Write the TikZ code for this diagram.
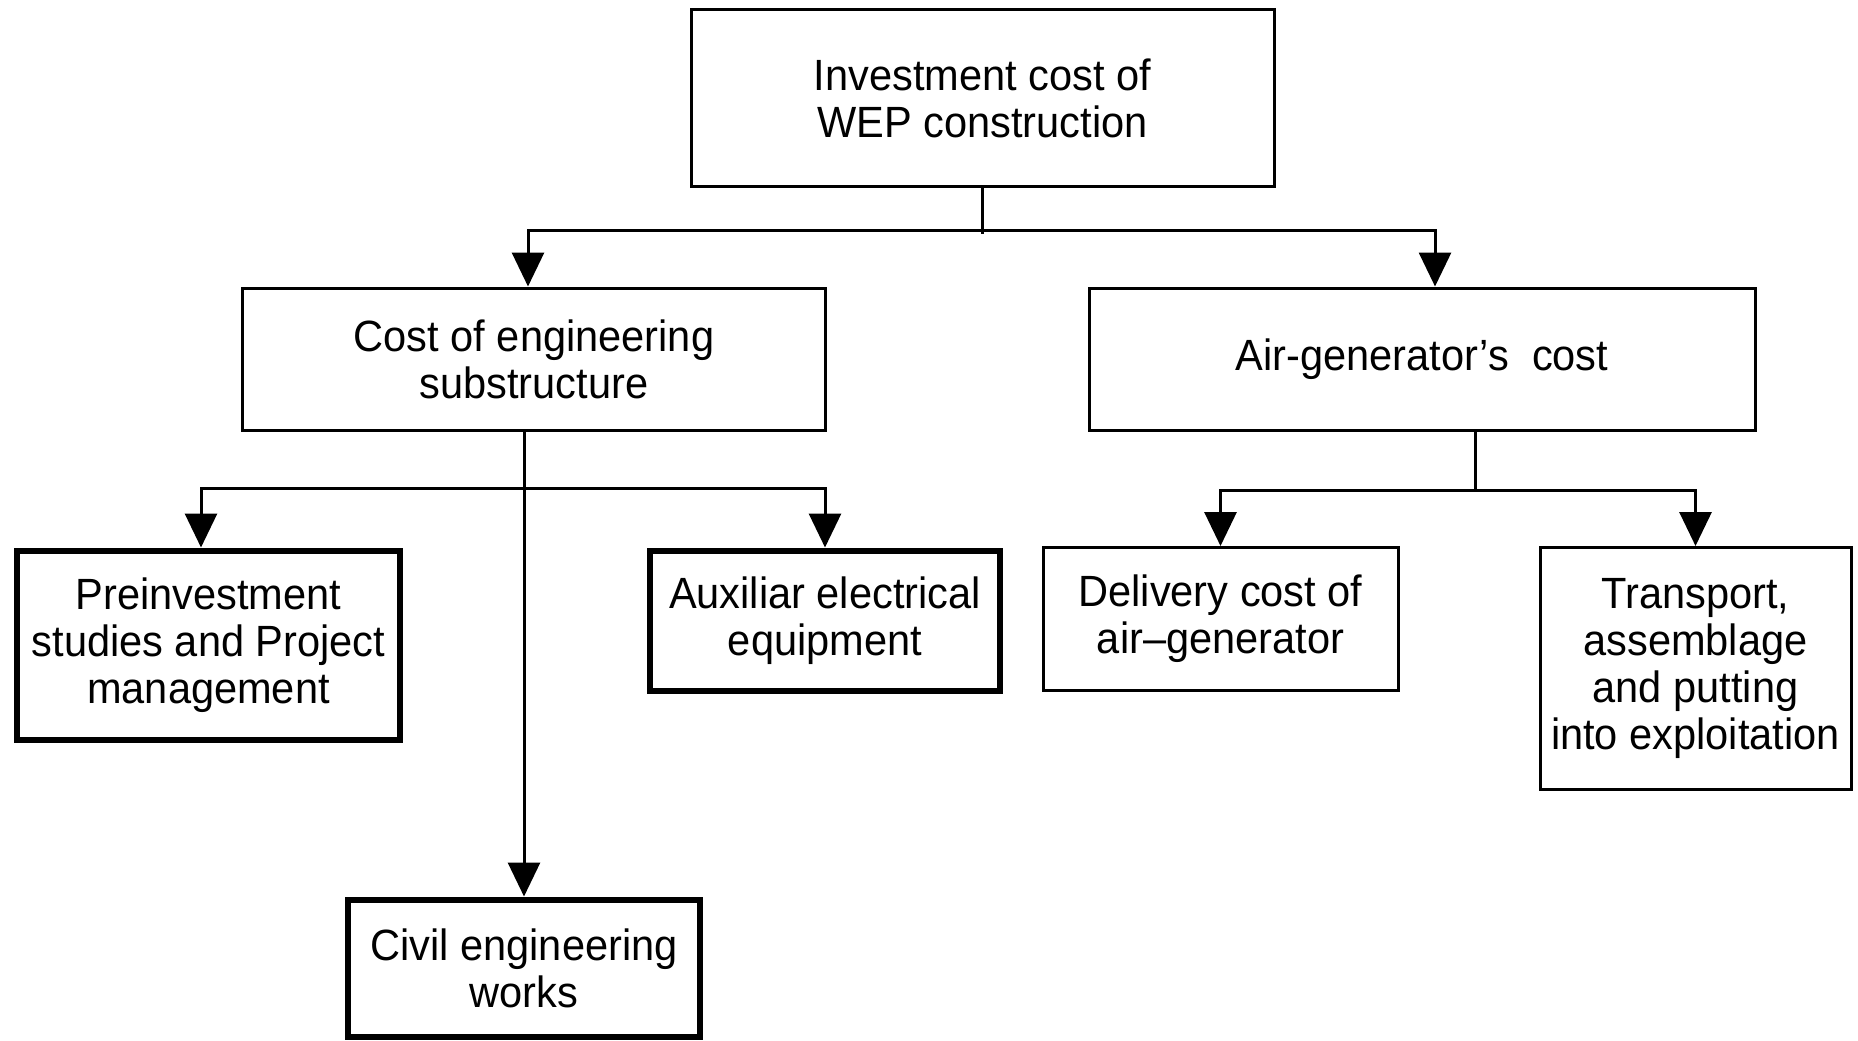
\documentclass[tikz,border=0pt]{standalone}
\usepackage{fontspec}
\setmainfont{Liberation Sans}[FakeStretch=0.95]
\usepackage{tikz}
\usetikzlibrary{arrows.meta,positioning}

\begin{document}
\begin{tikzpicture}[x=0.4pt,y=-0.4pt,>={Triangle[length=13.6pt,width=12.8pt]}]
\tikzset{
  box/.style ={draw,line width=1.2pt,align=center,inner sep=0pt,font=\fontsize{17.5}{18.8}\selectfont},
  hbox/.style={box,line width=2.4pt},
  link/.style={line width=1.2pt}
}
\useasboundingbox (0,0) rectangle (1858,1040);

\node[box,minimum width=233.2pt,minimum height=71pt] (top) at (982.5,98) {Investment cost of\\WEP construction};
\node[box,minimum width=232.8pt,minimum height=56.8pt] (eng) at (534,359) {Cost of engineering\\substructure};
\node[box,minimum width=266.4pt,minimum height=56.8pt,right=104.4pt of eng] (air) {Air-generator's\ \ cost};

\node[hbox,anchor=north,minimum width=153.2pt,minimum height=75.6pt] (pre) at (208.5,547.5) {Preinvestment\\studies and Project\\management};
\node[hbox,anchor=north,minimum width=140pt,minimum height=56pt] (aux) at (825,547.5) {Auxiliar electrical\\equipment};
\node[hbox,anchor=north,minimum width=140.8pt,minimum height=54.8pt] (civ) at (524,896.5) {Civil engineering\\works};
\node[box,anchor=north,minimum width=142pt,minimum height=57.2pt] (del) at (1220.5,546) {Delivery cost of\\air--generator};
\node[box,anchor=north,minimum width=124.4pt,minimum height=96.8pt] (tra) at (1695.5,546) {Transport,\\assemblage\\and putting\\into exploitation};

\path (top.south) ++(0,42) coordinate (tj);
\draw[link] (top.south) -- ++(0,46);
\draw[link,->] (tj) -| ([xshift=-2.4pt]eng.north);
\draw[link,->] (tj) -| ([xshift=5.2pt]air.north);

\path (civ.north |- eng.south) ++(0,57) coordinate (ej);
\draw[link,->] (civ.north |- eng.south) -- (civ.north);
\draw[link,->] (ej) -| ([xshift=-3pt]pre.north);
\draw[link,->] (ej) -| (aux.north);

\path ([xshift=21.2pt]air.south) ++(0,59) coordinate (aj);
\draw[link] ([xshift=21.2pt]air.south) -- (aj);
\draw[link,->] (aj) -| (del.north);
\draw[link,->] (aj) -| (tra.north);
\end{tikzpicture}
\end{document}
